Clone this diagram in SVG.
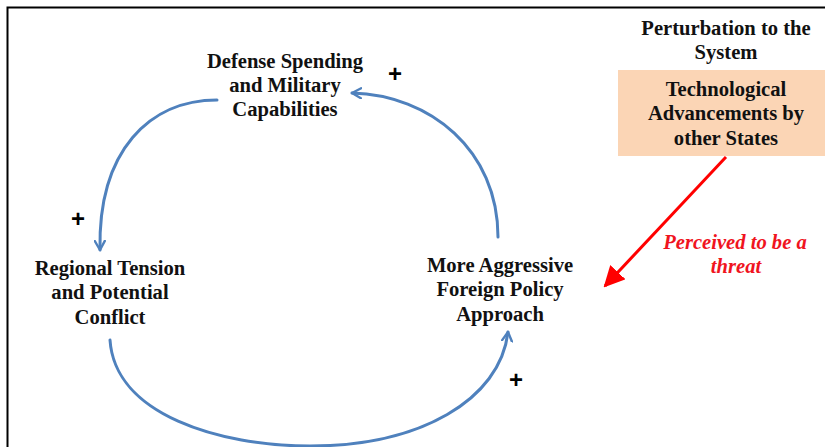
<svg xmlns="http://www.w3.org/2000/svg" width="825" height="447" viewBox="0 0 825 447">
  <style>
    .lbl { font-family: "Liberation Serif", "Times New Roman", serif; font-weight: bold; font-size: 20.6px; fill: #111; text-anchor: middle; }
    .red { font-family: "Liberation Serif", "Times New Roman", serif; font-weight: bold; font-style: italic; font-size: 20.6px; fill: #f0141e; text-anchor: middle; }
    .plus { font-family: "Liberation Sans", Arial, sans-serif; font-weight: bold; font-size: 24px; fill: #000; text-anchor: middle; }
    .loop { fill: none; stroke: #4f81bd; stroke-width: 3; stroke-linecap: round; }
  </style>
  <defs>
    <marker id="vhead" viewBox="0 0 12 12" refX="10" refY="6" markerWidth="4" markerHeight="4" orient="auto" markerUnits="strokeWidth">
      <path d="M1,1 L10,6 L1,11" fill="none" stroke="#4f81bd" stroke-width="2.4" stroke-linecap="round" stroke-linejoin="round"/>
    </marker>
    <marker id="redhead" viewBox="0 0 10 10" refX="9" refY="5" markerWidth="7" markerHeight="7" orient="auto" markerUnits="strokeWidth">
      <path d="M0,0 L10,5 L0,10 Z" fill="#f00"/>
    </marker>
  </defs>

  <rect width="825" height="447" fill="#fff"/>
  <!-- frame: left and top edges -->
  <path d="M7.5,447 L7.5,7.5 L825,7.5" fill="none" stroke="#000" stroke-width="2"/>

  <g id="defense">
    <text class="lbl" x="285" y="68">Defense Spending</text>
    <text class="lbl" x="285" y="92">and Military</text>
    <text class="lbl" x="285" y="116">Capabilities</text>
  </g>

  <g id="regional">
    <text class="lbl" x="110" y="275">Regional Tension</text>
    <text class="lbl" x="110" y="299">and Potential</text>
    <text class="lbl" x="110" y="324">Conflict</text>
  </g>

  <g id="aggressive">
    <text class="lbl" x="500" y="272">More Aggressive</text>
    <text class="lbl" x="500" y="296">Foreign Policy</text>
    <text class="lbl" x="500" y="321">Approach</text>
  </g>

  <g id="perturbation">
    <text class="lbl" x="726" y="35">Perturbation to the</text>
    <text class="lbl" x="726" y="59">System</text>
  </g>

  <g id="technology">
    <rect x="618" y="70" width="207" height="86" fill="#fbd5b5"/>
    <text class="lbl" x="726" y="96">Technological</text>
    <text class="lbl" x="726" y="120">Advancements by</text>
    <text class="lbl" x="726" y="145">other States</text>
  </g>

  <g id="connectors">
    <path class="loop" d="M217,100 C150,100 98,150 100,250" marker-end="url(#vhead)"/>
    <path class="loop" d="M498,237 C498,150 430,95 352,93" marker-end="url(#vhead)"/>
    <path class="loop" d="M110,340 C115,415 220,446 310,446 C420,446 500,400 508,332" marker-end="url(#vhead)"/>
    <path d="M726,157 L605,286" fill="none" stroke="#f00" stroke-width="3" marker-end="url(#redhead)"/>
  </g>

  <g id="polarities">
    <text class="plus" x="395" y="82">+</text>
    <text class="plus" x="78" y="227">+</text>
    <text class="plus" x="516" y="388">+</text>
  </g>

  <g id="threat-label">
    <text class="red" x="735" y="249">Perceived to be a</text>
    <text class="red" x="736" y="273">threat</text>
  </g>
</svg>
